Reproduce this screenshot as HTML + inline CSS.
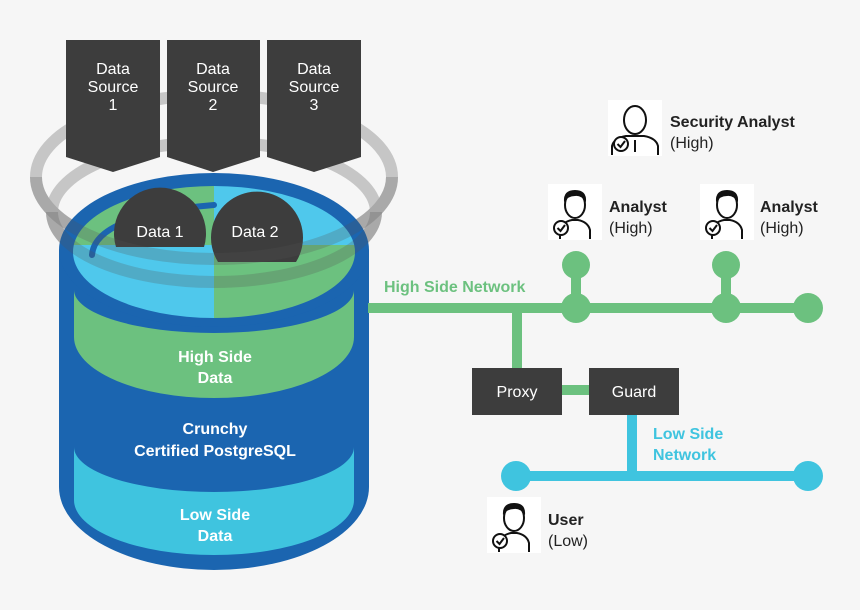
<!DOCTYPE html>
<html><head><meta charset="utf-8"><style>
html,body{margin:0;padding:0;background:#f6f6f6;}
svg{display:block;font-family:"Liberation Sans",sans-serif;}
</style></head><body>
<svg width="860" height="610" viewBox="0 0 860 610" xmlns="http://www.w3.org/2000/svg">
<defs>
<g id="person">
  <rect x="0" y="0" width="54" height="56" fill="#fff"/>
  <path d="M12 55 L12 46 Q14 38 24 36 L30 36 Q40 38 42 46 L42 55" fill="none" stroke="#111" stroke-width="2"/>
  <ellipse cx="27" cy="21" rx="10" ry="13" fill="#fff" stroke="#111" stroke-width="2"/>
  <path d="M16 18 Q15 6 27 6 Q39 6 38 18 Q33 11 27 12 Q20 12 16 18Z" fill="#111"/>
  <circle cx="13" cy="44" r="7" fill="#fff" stroke="#111" stroke-width="2"/>
  <path d="M9.5 44 L12.5 47 L17 41" fill="none" stroke="#111" stroke-width="2"/>
</g>
<g id="person2">
  <rect x="0" y="0" width="54" height="56" fill="#fff"/>
  <path d="M4 55 L4 46 Q6 38 18 36 L36 36 Q48 38 50 46 L50 55 M27 40 L27 52" fill="none" stroke="#111" stroke-width="2"/>
  <ellipse cx="27" cy="20" rx="11" ry="14" fill="#fff" stroke="#111" stroke-width="2"/>
  <circle cx="13" cy="44" r="7" fill="#fff" stroke="#111" stroke-width="2"/>
  <path d="M9.5 44 L12.5 47 L17 41" fill="none" stroke="#111" stroke-width="2"/>
</g>
</defs>

<!-- gray rings back -->
<ellipse cx="214" cy="177" rx="178" ry="82" fill="none" stroke="#c6c6c6" stroke-width="12"/>
<ellipse cx="214" cy="212" rx="162" ry="70" fill="none" stroke="#c6c6c6" stroke-width="12"/>

<!-- data sources -->
<g fill="#3d3d3d">
<polygon points="66,40 160,40 160,157 113,172 66,157"/>
<polygon points="167,40 260,40 260,157 213,172 167,157"/>
<polygon points="267,40 361,40 361,157 314,172 267,157"/>
</g>
<g fill="#fff" font-size="16" text-anchor="middle">
<text x="113" y="74">Data</text><text x="113" y="92">Source</text><text x="113" y="110">1</text>
<text x="213" y="74">Data</text><text x="213" y="92">Source</text><text x="213" y="110">2</text>
<text x="314" y="74">Data</text><text x="314" y="92">Source</text><text x="314" y="110">3</text>
</g>

<!-- cylinder body -->
<path d="M59 250 L59 487 A155 83 0 0 0 369 487 L369 250 Z" fill="#1b65b0"/>
<ellipse cx="214" cy="250" rx="155" ry="77" fill="#1b65b0"/>
<path d="M74 290 A140 43 0 0 0 354 290 L354 337 A140 61 0 0 1 74 337 Z" fill="#6cc17f"/>
<path d="M74 447 A140 45 0 0 0 354 447 L354 500 A140 55 0 0 1 74 500 Z" fill="#3fc4df"/>
<clipPath id="top"><ellipse cx="214" cy="252" rx="141" ry="66"/></clipPath>
<g clip-path="url(#top)">
<rect x="70" y="180" width="144" height="65" fill="#6cc17f"/>
<rect x="214" y="180" width="145" height="65" fill="#4fc8ec"/>
<rect x="70" y="245" width="144" height="80" fill="#4fc8ec"/>
<rect x="214" y="245" width="145" height="80" fill="#6cc17f"/>
</g>
<path d="M92 255 Q95 215 214 205" fill="none" stroke="#1b65b0" stroke-width="6" stroke-linecap="round"/>

<!-- data circles -->
<path d="M116 247 A46 46 0 1 1 204 247 Z" fill="#3d3d3d"/>
<path d="M218 262 A46 46 0 1 1 296 262 Z" fill="#3d3d3d"/>
<g fill="#fff" font-size="16" text-anchor="middle">
<text x="160" y="237">Data 1</text><text x="255" y="237">Data 2</text>
</g>

<!-- gray rings front (translucent) -->
<path d="M36 177 A178 82 0 0 0 392 177" fill="none" stroke="#555" stroke-opacity="0.25" stroke-width="12"/>
<path d="M52 212 A162 70 0 0 0 376 212" fill="none" stroke="#555" stroke-opacity="0.25" stroke-width="12"/>

<g fill="#fff" font-size="16" font-weight="bold" text-anchor="middle">
<text x="215" y="362">High Side</text><text x="215" y="383">Data</text>
<text x="215" y="434">Crunchy</text><text x="215" y="456">Certified PostgreSQL</text>
<text x="215" y="520">Low Side</text><text x="215" y="541">Data</text>
</g>

<!-- high network -->
<g stroke="#6cc17f" stroke-width="10" fill="none">
<line x1="368" y1="308" x2="808" y2="308"/>
<line x1="576" y1="265" x2="576" y2="308"/>
<line x1="726" y1="265" x2="726" y2="308"/>
<line x1="517" y1="308" x2="517" y2="370"/>
<line x1="560" y1="390" x2="592" y2="390"/>
</g>
<g fill="#6cc17f">
<circle cx="576" cy="265" r="14"/><circle cx="726" cy="265" r="14"/>
<circle cx="576" cy="308" r="15"/><circle cx="726" cy="308" r="15"/><circle cx="808" cy="308" r="15"/>
</g>
<text x="384" y="292" fill="#6cc17f" font-size="16" font-weight="bold">High Side Network</text>

<!-- low network -->
<g stroke="#3fc4df" stroke-width="10"><line x1="632" y1="412" x2="632" y2="476"/><line x1="516" y1="476" x2="808" y2="476"/></g>
<g fill="#3fc4df"><circle cx="516" cy="476" r="15"/><circle cx="808" cy="476" r="15"/></g>
<g fill="#3fc4df" font-size="16" font-weight="bold"><text x="653" y="439">Low Side</text><text x="653" y="460">Network</text></g>

<!-- proxy/guard -->
<rect x="472" y="368" width="90" height="47" fill="#3d3d3d"/>
<rect x="589" y="368" width="90" height="47" fill="#3d3d3d"/>
<g fill="#fff" font-size="16" text-anchor="middle"><text x="517" y="397">Proxy</text><text x="634" y="397">Guard</text></g>

<!-- people -->
<use href="#person2" x="608" y="100"/>
<use href="#person" x="548" y="184"/>
<use href="#person" x="700" y="184"/>
<use href="#person" x="487" y="497"/>
<g font-size="16" fill="#222">
<text x="670" y="127" font-weight="bold">Security Analyst</text><text x="670" y="148">(High)</text>
<text x="609" y="212" font-weight="bold">Analyst</text><text x="609" y="233">(High)</text>
<text x="760" y="212" font-weight="bold">Analyst</text><text x="760" y="233">(High)</text>
<text x="548" y="525" font-weight="bold">User</text><text x="548" y="546">(Low)</text>
</g>
</svg>
</body></html>
